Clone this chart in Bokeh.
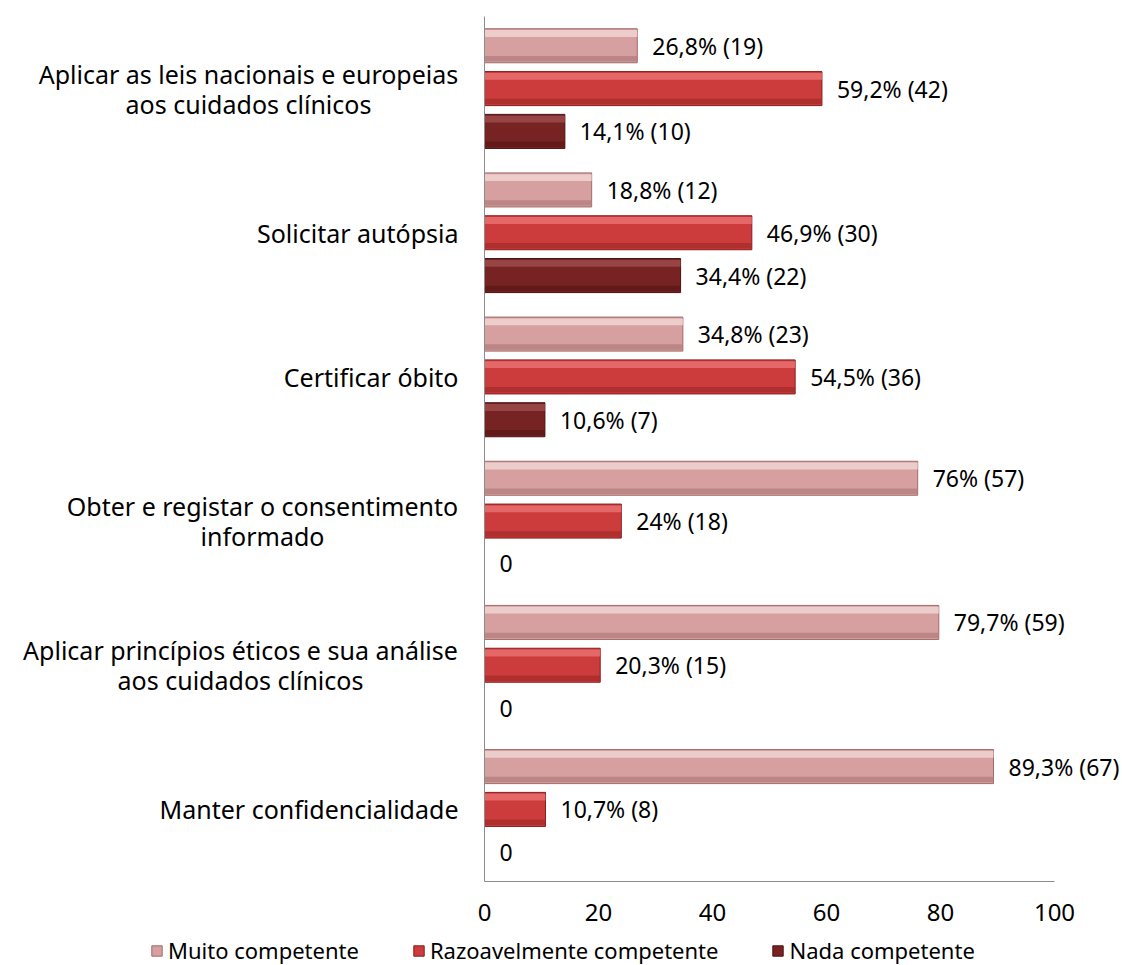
from bokeh.plotting import figure
from bokeh.models import (ColumnDataSource, Range1d, Legend, LegendItem,
                          FixedTicker, LinearAxis)
from bokeh.transform import dodge
from bokeh.core.properties import value
from bokeh.embed import file_html
from bokeh.resources import INLINE

# ---------------- data ----------------
categories = [
    "Aplicar as leis nacionais e europeias\naos cuidados clínicos",
    "Solicitar autópsia",
    "Certificar óbito",
    "Obter e registar o consentimento\ninformado",
    "Aplicar princípios éticos e sua análise\naos cuidados clínicos",
    "Manter confidencialidade",
]
muito_pct = [26.8, 18.8, 34.8, 76.0, 79.7, 89.3]
muito_n = [19, 12, 23, 57, 59, 67]
razo_pct = [59.2, 46.9, 54.5, 24.0, 20.3, 10.7]
razo_n = [42, 30, 36, 18, 15, 8]
nada_pct = [14.1, 34.4, 10.6, 0, 0, 0]
nada_n = [10, 22, 7, 0, 0, 0]
series_names = ["Muito competente", "Razoavelmente competente", "Nada competente"]
x_ticks = [0, 20, 40, 60, 80, 100]


def fmt(p, n):
    if p == 0:
        return "0"
    s = ("%g" % p).replace(".", ",")
    return "%s%% (%d)" % (s, n)


# ---------------- layout / style ----------------
FONT = "Noto Sans"
W, H = 1122, 965
X0_PX = 484            # pixel position of value 0
PX_PER_UNIT = 5.7
TOP_PX, PLOT_BOTTOM_PX = 16, 881
N = len(categories)
UNIT_PX = (PLOT_BOTTOM_PX - TOP_PX) / N   # pixels per category band
LABEL_GAP = 26
# approximate pixel width of the first line of two-line labels (for centring lines)
first_line_width = {0: 420, 3: 392, 4: 436}

# category k is drawn at band position N-1-k (first category on top)
ypos = [N - 1 - k for k in range(N)]

p = figure(width=W, height=H, output_backend="svg", toolbar_location=None,
           y_axis_location=None,
           x_range=Range1d(-X0_PX / PX_PER_UNIT, (W - X0_PX) / PX_PER_UNIT),
           y_range=Range1d(-0.5 - (H - PLOT_BOTTOM_PX) / UNIT_PX,
                           N - 0.5 + TOP_PX / UNIT_PX),
           min_border=0)
p.outline_line_color = None
p.grid.grid_line_color = None
p.background_fill_color = "white"

# bar styles: (fill, top highlight, bottom shade, border)
styles = [
    ("#D6A0A0", "#F1D4D4", "#B57F7F", "#A06A6A"),
    ("#CD3C3C", "#E77070", "#A82A2A", "#8A1C1C"),
    ("#772323", "#9C4A4A", "#5C1717", "#4A1010"),
]
offsets = [0.297, 0.0, -0.297]
pcts = [muito_pct, razo_pct, nada_pct]
ns = [muito_n, razo_n, nada_n]
bar_h = 0.236

renderers = []
for i in range(3):
    src = ColumnDataSource(dict(y=ypos, v=pcts[i],
                                lab=[fmt(a, b) for a, b in zip(pcts[i], ns[i])]))
    fill, hi, shade, border = styles[i]
    r = p.hbar(y=dodge("y", offsets[i]), right="v", left=0,
               height=bar_h, source=src, fill_color=fill, line_color=border, line_width=1)
    # bevel: light strip at the top, darker strip at the bottom
    p.hbar(y=dodge("y", offsets[i] + bar_h * 0.36), right="v", left=0,
           height=bar_h * 0.2, source=src, fill_color=hi, line_color=None, fill_alpha=0.85)
    p.hbar(y=dodge("y", offsets[i] - bar_h * 0.38), right="v", left=0,
           height=bar_h * 0.16, source=src, fill_color=shade, line_color=None, fill_alpha=0.8)
    p.text(x="v", y=dodge("y", offsets[i]), text="lab", source=src,
           x_offset=15, text_baseline="middle", text_align="left",
           text_font=value(FONT), text_font_size="23px", text_color="#000000")
    renderers.append(r)

# vertical axis line (value axis origin), no ticks or labels
yax = LinearAxis(fixed_location=0, bounds=(-0.5, N - 0.5), ticker=FixedTicker(ticks=[]),
                 axis_line_color="#8C8C8C", major_tick_line_color=None,
                 minor_tick_line_color=None, major_label_text_alpha=0)
p.add_layout(yax, "left")

# category labels
single_y = [ypos[k] for k in range(N) if k not in first_line_width]
single_t = [categories[k] for k in range(N) if k not in first_line_width]
multi_y = [ypos[k] for k in range(N) if k in first_line_width]
multi_t = [categories[k] for k in range(N) if k in first_line_width]
multi_off = [-(LABEL_GAP + first_line_width[k] / 2) for k in range(N) if k in first_line_width]
p.text(x=0, y="y", text="t", source=ColumnDataSource(dict(y=single_y, t=single_t)),
       x_offset=-LABEL_GAP, text_align="right", text_baseline="middle",
       text_font=value(FONT), text_font_size="25px", text_color="#000000")
p.text(x=0, y="y", text="t", source=ColumnDataSource(dict(y=multi_y, t=multi_t, off=multi_off)),
       x_offset="off", text_align="center", text_baseline="middle", text_line_height=0.88,
       text_font=value(FONT), text_font_size="25px", text_color="#000000")

# x axis, drawn at the bottom edge of the category bands
p.xaxis.fixed_location = -0.5
p.xaxis.ticker = FixedTicker(ticks=x_ticks)
p.xaxis.bounds = (0, 100)
p.xaxis.major_tick_line_color = None
p.xaxis.minor_tick_line_color = None
p.xaxis.axis_line_color = "#8C8C8C"
p.xaxis.major_label_text_font = FONT
p.xaxis.major_label_text_font_size = "24px"
p.xaxis.major_label_text_color = "#000000"
p.xaxis.major_label_standoff = 16

legend = Legend(items=[LegendItem(label=series_names[i], renderers=[renderers[i]])
                       for i in range(3)],
                orientation="horizontal", location=(150, 0),
                label_text_font=FONT, label_text_font_size="22px", label_text_color="#000000",
                glyph_width=13, glyph_height=13, label_height=25, spacing=53,
                padding=0, margin=0, label_standoff=5,
                border_line_color=None, background_fill_alpha=0)
p.add_layout(legend, "center")

open("out.html", "w").write(file_html(p, INLINE))
